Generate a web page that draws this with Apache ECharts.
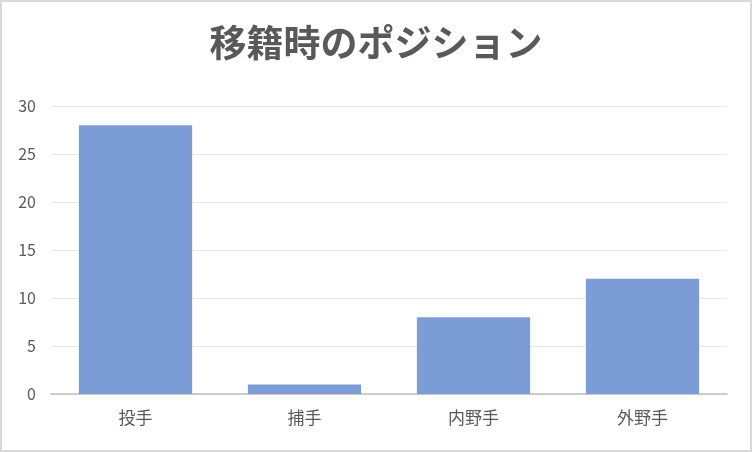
<!DOCTYPE html>
<html>
<head>
<meta charset="utf-8">
<script src="https://cdn.jsdelivr.net/npm/echarts@6/dist/echarts.min.js"></script>
<style>
  html, body { margin: 0; padding: 0; background: #fff; }
  #chart { width: 748px; height: 448px; border: 2px solid #d9d9d9; }
</style>
</head>
<body>
<div id="chart"></div>
<script>
const categories = ['投手', '捕手', '内野手', '外野手']
const counts = [28, 1, 8, 12]
const yTicks = { min: 0, max: 30, interval: 5 }

const chart = echarts.init(document.getElementById('chart'))
const font = '"Noto Sans CJK JP", "Noto Sans", sans-serif'

chart.setOption({
  animation: false,
  title: {
    text: '移籍時のポジション',
    left: 'center',
    top: 17,
    textStyle: { fontFamily: font, fontSize: 37, fontWeight: 'bold', color: '#595959' }
  },
  grid: { left: 49, right: 23, top: 104, bottom: 56 },
  xAxis: {
    type: 'category',
    data: categories,
    axisTick: { show: false },
    axisLine: { lineStyle: { color: '#bfbfbf', width: 1.5 } },
    axisLabel: { fontFamily: font, fontSize: 17, color: '#595959', margin: 15 }
  },
  yAxis: {
    type: 'value',
    min: yTicks.min,
    max: yTicks.max,
    interval: yTicks.interval,
    axisLine: { show: false },
    axisTick: { show: false },
    splitLine: { lineStyle: { color: '#e6e6e6', width: 1 } },
    axisLabel: { fontFamily: font, fontSize: 16, color: '#595959', margin: 15 }
  },
  series: [{
    type: 'bar',
    data: counts,
    barWidth: '67%',
    itemStyle: { color: '#7b9cd4' }
  }]
})
</script>
</body>
</html>
